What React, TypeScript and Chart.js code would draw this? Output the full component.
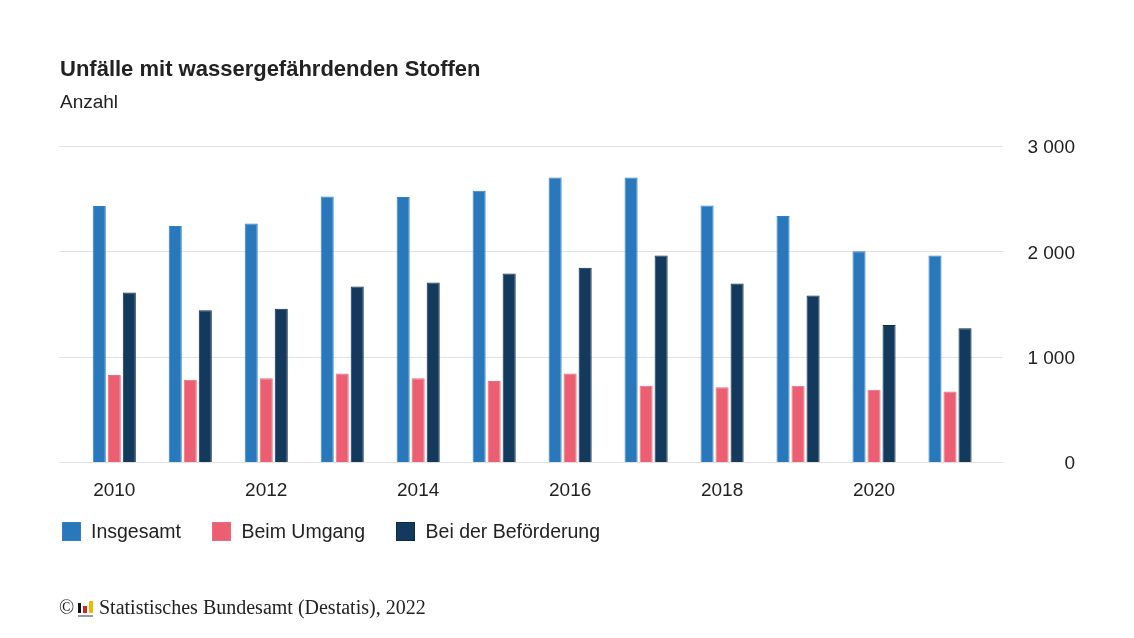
import React, { useEffect, useRef } from 'react';
import Chart from 'chart.js/auto';

const years = ['2010', '2011', '2012', '2013', '2014', '2015', '2016', '2017', '2018', '2019', '2020', '2021'];
const insgesamt = [2430, 2240, 2265, 2520, 2515, 2575, 2700, 2700, 2435, 2335, 2000, 1960];
const beimUmgang = [825, 780, 795, 840, 795, 770, 840, 725, 710, 725, 685, 670];
const beiBefoerderung = [1610, 1440, 1455, 1665, 1705, 1790, 1845, 1960, 1695, 1580, 1300, 1270];
const seriesLabels = ['Insgesamt', 'Beim Umgang', 'Bei der Beförderung'];
const yTicks = [0, 1000, 2000, 3000];

const SANS = "'Liberation Sans', Arial, sans-serif";
const SERIF = "'Liberation Serif', 'Times New Roman', serif";
const TEXT = '#222222';
const fills = ['#2a78bc', '#ec5f73', '#13395d'];
const borders = ['#2f80c6', '#f06a7d', '#0c2b48'];

// horizontal grid lines reach a bit past the bars on both sides
const gridLines = {
  id: 'gridLines',
  beforeDatasetsDraw(chart: any) {
    const { ctx, chartArea, scales } = chart;
    const y = scales.y;
    ctx.save();
    ctx.strokeStyle = '#e2e2e2';
    ctx.lineWidth = 1;
    y.ticks.forEach((t: any) => {
      const py = Math.round(y.getPixelForValue(t.value)) + 0.5;
      ctx.beginPath();
      ctx.moveTo(chartArea.left - 17, py);
      ctx.lineTo(chartArea.right + 15, py);
      ctx.stroke();
    });
    ctx.restore();
  },
};

const formatNumber = (v: number) => String(v).replace(/\B(?=(\d{3})+(?!\d))/g, ' ');

const App: React.FC = () => {
  const canvasRef = useRef<HTMLCanvasElement>(null);

  useEffect(() => {
    const canvas = canvasRef.current;
    if (!canvas) return;

    const values = [insgesamt, beimUmgang, beiBefoerderung];

    const chart = new Chart(canvas, {
      type: 'bar',
      data: {
        labels: years,
        datasets: seriesLabels.map((label, i) => ({
          label,
          data: values[i],
          backgroundColor: fills[i],
          borderColor: borders[i],
          borderWidth: 1,
        })),
      },
      options: {
        responsive: false,
        animation: false,
        datasets: {
          bar: { barPercentage: 0.87, categoryPercentage: 0.593 },
        },
        layout: { padding: { left: 27, right: 59, top: 146, bottom: 138 } },
        plugins: {
          title: { display: false },
          tooltip: { enabled: false },
          legend: { display: false },
        },
        scales: {
          x: {
            type: 'category',
            grid: { display: false, drawTicks: false },
            border: { display: false },
            ticks: {
              autoSkip: false,
              maxRotation: 0,
              padding: 17,
              color: TEXT,
              font: { family: SANS, size: 19 },
              callback: (_v: any, i: number) => (i % 2 === 0 ? years[i] : ''),
            },
            afterFit: (s: any) => {
              s.height = 38;
            },
          },
          y: {
            position: 'right',
            min: 0,
            max: 3000,
            grid: { display: false, drawTicks: false },
            border: { display: false },
            afterBuildTicks: (s: any) => {
              s.ticks = yTicks.map((value) => ({ value }));
            },
            ticks: {
              padding: 39.5,
              crossAlign: 'far',
              labelOffset: 2,
              color: TEXT,
              font: { family: SANS, size: 19 },
              callback: (v: any) => formatNumber(Number(v)),
            },
            afterFit: (s: any) => {
              s.width = 87;
            },
          },
          spacer: {
            type: 'linear',
            position: 'left',
            grid: { display: false, drawTicks: false },
            border: { display: false },
            ticks: { display: false },
            afterFit: (s: any) => {
              s.width = 49.3;
            },
          },
        },
      },
      plugins: [gridLines],
    } as any);

    return () => {
      chart.destroy();
    };
  }, []);

  return (
    <div style={{ position: 'absolute', left: 0, top: 0, width: 1134, height: 638, background: '#fff' }}>
      <canvas ref={canvasRef} width={1134} height={638} style={{ position: 'absolute', left: 0, top: 0 }} />
      <div
        style={{
          position: 'absolute',
          left: 60,
          top: 58,
          font: `bold 22px ${SANS}`,
          lineHeight: '22px',
          color: TEXT,
          whiteSpace: 'nowrap',
        }}
      >
        Unfälle mit wassergefährdenden Stoffen
      </div>
      <div
        style={{
          position: 'absolute',
          left: 60,
          top: 92,
          font: `19px ${SANS}`,
          lineHeight: '19px',
          color: TEXT,
          whiteSpace: 'nowrap',
        }}
      >
        Anzahl
      </div>
      <div
        style={{
          position: 'absolute',
          left: 61.5,
          top: 521.5,
          height: 19,
          display: 'flex',
          alignItems: 'center',
          font: `19.5px ${SANS}`,
          color: TEXT,
          whiteSpace: 'nowrap',
        }}
      >
        {seriesLabels.map((label, i) => (
          <div key={label} style={{ display: 'flex', alignItems: 'center', marginRight: 31 }}>
            <span
              style={{
                display: 'inline-block',
                width: 17,
                height: 17,
                background: fills[i],
                border: `1px solid ${borders[i]}`,
                marginRight: 10.5,
              }}
            />
            <span style={{ lineHeight: '19px' }}>{label}</span>
          </div>
        ))}
      </div>
      <div
        style={{
          position: 'absolute',
          left: 59,
          top: 597,
          font: `20px ${SERIF}`,
          lineHeight: '20px',
          color: TEXT,
        }}
      >
        ©
      </div>
      <div style={{ position: 'absolute', left: 78, top: 603, width: 3, height: 10, background: '#111' }} />
      <div style={{ position: 'absolute', left: 83, top: 606, width: 4, height: 7, background: '#d0262e' }} />
      <div style={{ position: 'absolute', left: 89, top: 601, width: 4, height: 12, background: '#f1b800' }} />
      <div style={{ position: 'absolute', left: 78, top: 615, width: 15, height: 2, background: '#9a9a9a' }} />
      <div
        style={{
          position: 'absolute',
          left: 99,
          top: 597,
          font: `20px ${SERIF}`,
          lineHeight: '20px',
          color: TEXT,
          whiteSpace: 'nowrap',
        }}
      >
        Statistisches Bundesamt (Destatis), 2022
      </div>
    </div>
  );
};

export default App;
